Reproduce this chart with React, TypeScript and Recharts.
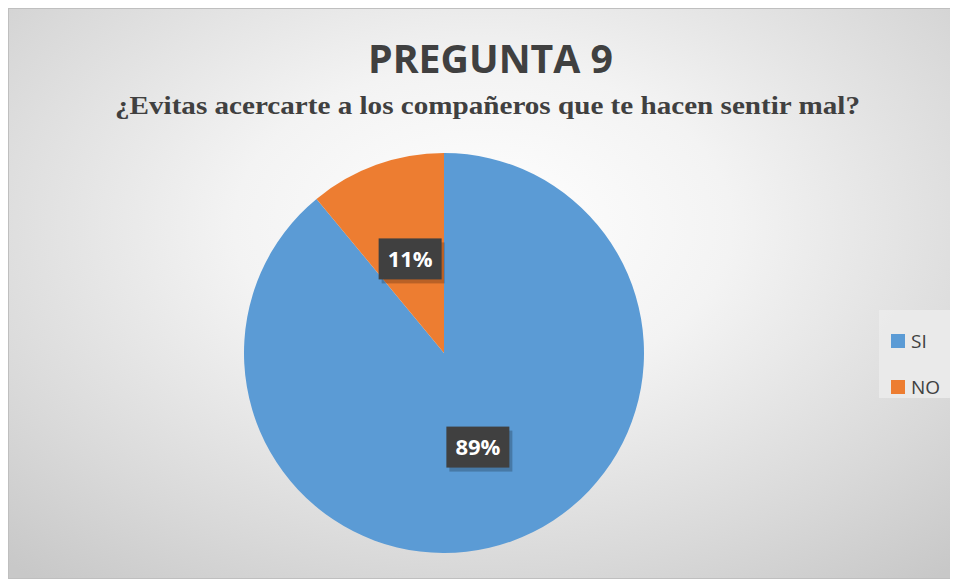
import { PieChart, Pie, Cell, Legend } from "recharts";

const categories = ["SI", "NO"];
const values = [89, 11];
const colors = ["#5B9BD5", "#ED7D31"];

const chartTitle = "PREGUNTA 9";
const chartSubtitle = "¿Evitas acercarte a los compañeros que te hacen sentir mal?";

const data = categories.map((name, i) => ({ name, value: values[i] }));

const RADIAN = Math.PI / 180;

function renderLabel(props: any) {
  const { cx, cy, midAngle, outerRadius, percent } = props;
  const r = outerRadius * 0.5;
  const x = cx + r * Math.cos(-midAngle * RADIAN);
  const y = cy + r * Math.sin(-midAngle * RADIAN);
  const w = 63;
  const h = 41;
  return (
    <g>
      <rect x={x - w / 2 + 3} y={y - h / 2 + 4} width={w} height={h} fill="#000" opacity={0.22} />
      <rect x={x - w / 2} y={y - h / 2} width={w} height={h} fill="#404040" />
      <text
        x={x}
        y={y + 8}
        textAnchor="middle"
        fill="#fff"
        fontFamily="'Open Sans', sans-serif"
        fontWeight="bold"
        fontSize={22}
      >
        {`${Math.round(percent * 100)}%`}
      </text>
    </g>
  );
}

function LegendBox() {
  return (
    <div
      style={{
        background: "rgba(235,235,235,0.9)",
        width: 72,
        height: 88,
        boxSizing: "border-box",
        paddingTop: 8,
        paddingLeft: 12,
        fontFamily: "'Open Sans', sans-serif",
        fontSize: 19,
        color: "#404040",
      }}
    >
      {categories.map((c, i) => (
        <div key={c} style={{ display: "flex", alignItems: "center", height: 46 }}>
          <span style={{ width: 14, height: 14, background: colors[i], marginRight: 6, display: "inline-block" }} />
          <span>{c}</span>
        </div>
      ))}
    </div>
  );
}

export default function App() {
  return (
    <div
      style={{
        position: "relative",
        width: 950,
        height: 571,
        boxSizing: "border-box",
        border: "1px solid #bfbfbf",
        background: "radial-gradient(ellipse 75% 80% at 50% 38%, #ffffff 0%, #f3f3f3 35%, #d9d9d9 75%, #c8c8c8 100%)",
        overflow: "hidden",
      }}
    >
      <svg width={950} height={140} style={{ position: "absolute", left: -1, top: -1 }}>
        <text
          x={360}
          y={65}
          textLength={245}
          lengthAdjust="spacingAndGlyphs"
          fill="#404040"
          fontFamily="'Open Sans', sans-serif"
          fontWeight="bold"
          fontSize={39}
        >
          {chartTitle}
        </text>
        <text
          x={107}
          y={106}
          textLength={745}
          lengthAdjust="spacingAndGlyphs"
          fill="#404040"
          fontFamily="'Liberation Serif', 'Times New Roman', serif"
          fontWeight="bold"
          fontSize={26}
        >
          {chartSubtitle}
        </text>
      </svg>
      <PieChart width={948} height={569} style={{ position: "absolute", left: 0, top: 0 }}>
        <Pie
          data={data}
          dataKey="value"
          nameKey="name"
          cx={430}
          cy={339}
          outerRadius={200}
          startAngle={90}
          endAngle={-270}
          stroke="none"
          label={renderLabel}
          labelLine={false}
          isAnimationActive={false}
        >
          {data.map((d, i) => (
            <Cell key={d.name} fill={colors[i]} />
          ))}
        </Pie>
        <Legend
          content={<LegendBox />}
          layout="vertical"
          wrapperStyle={{ left: 870, top: 301, width: 72 }}
        />
      </PieChart>
    </div>
  );
}
